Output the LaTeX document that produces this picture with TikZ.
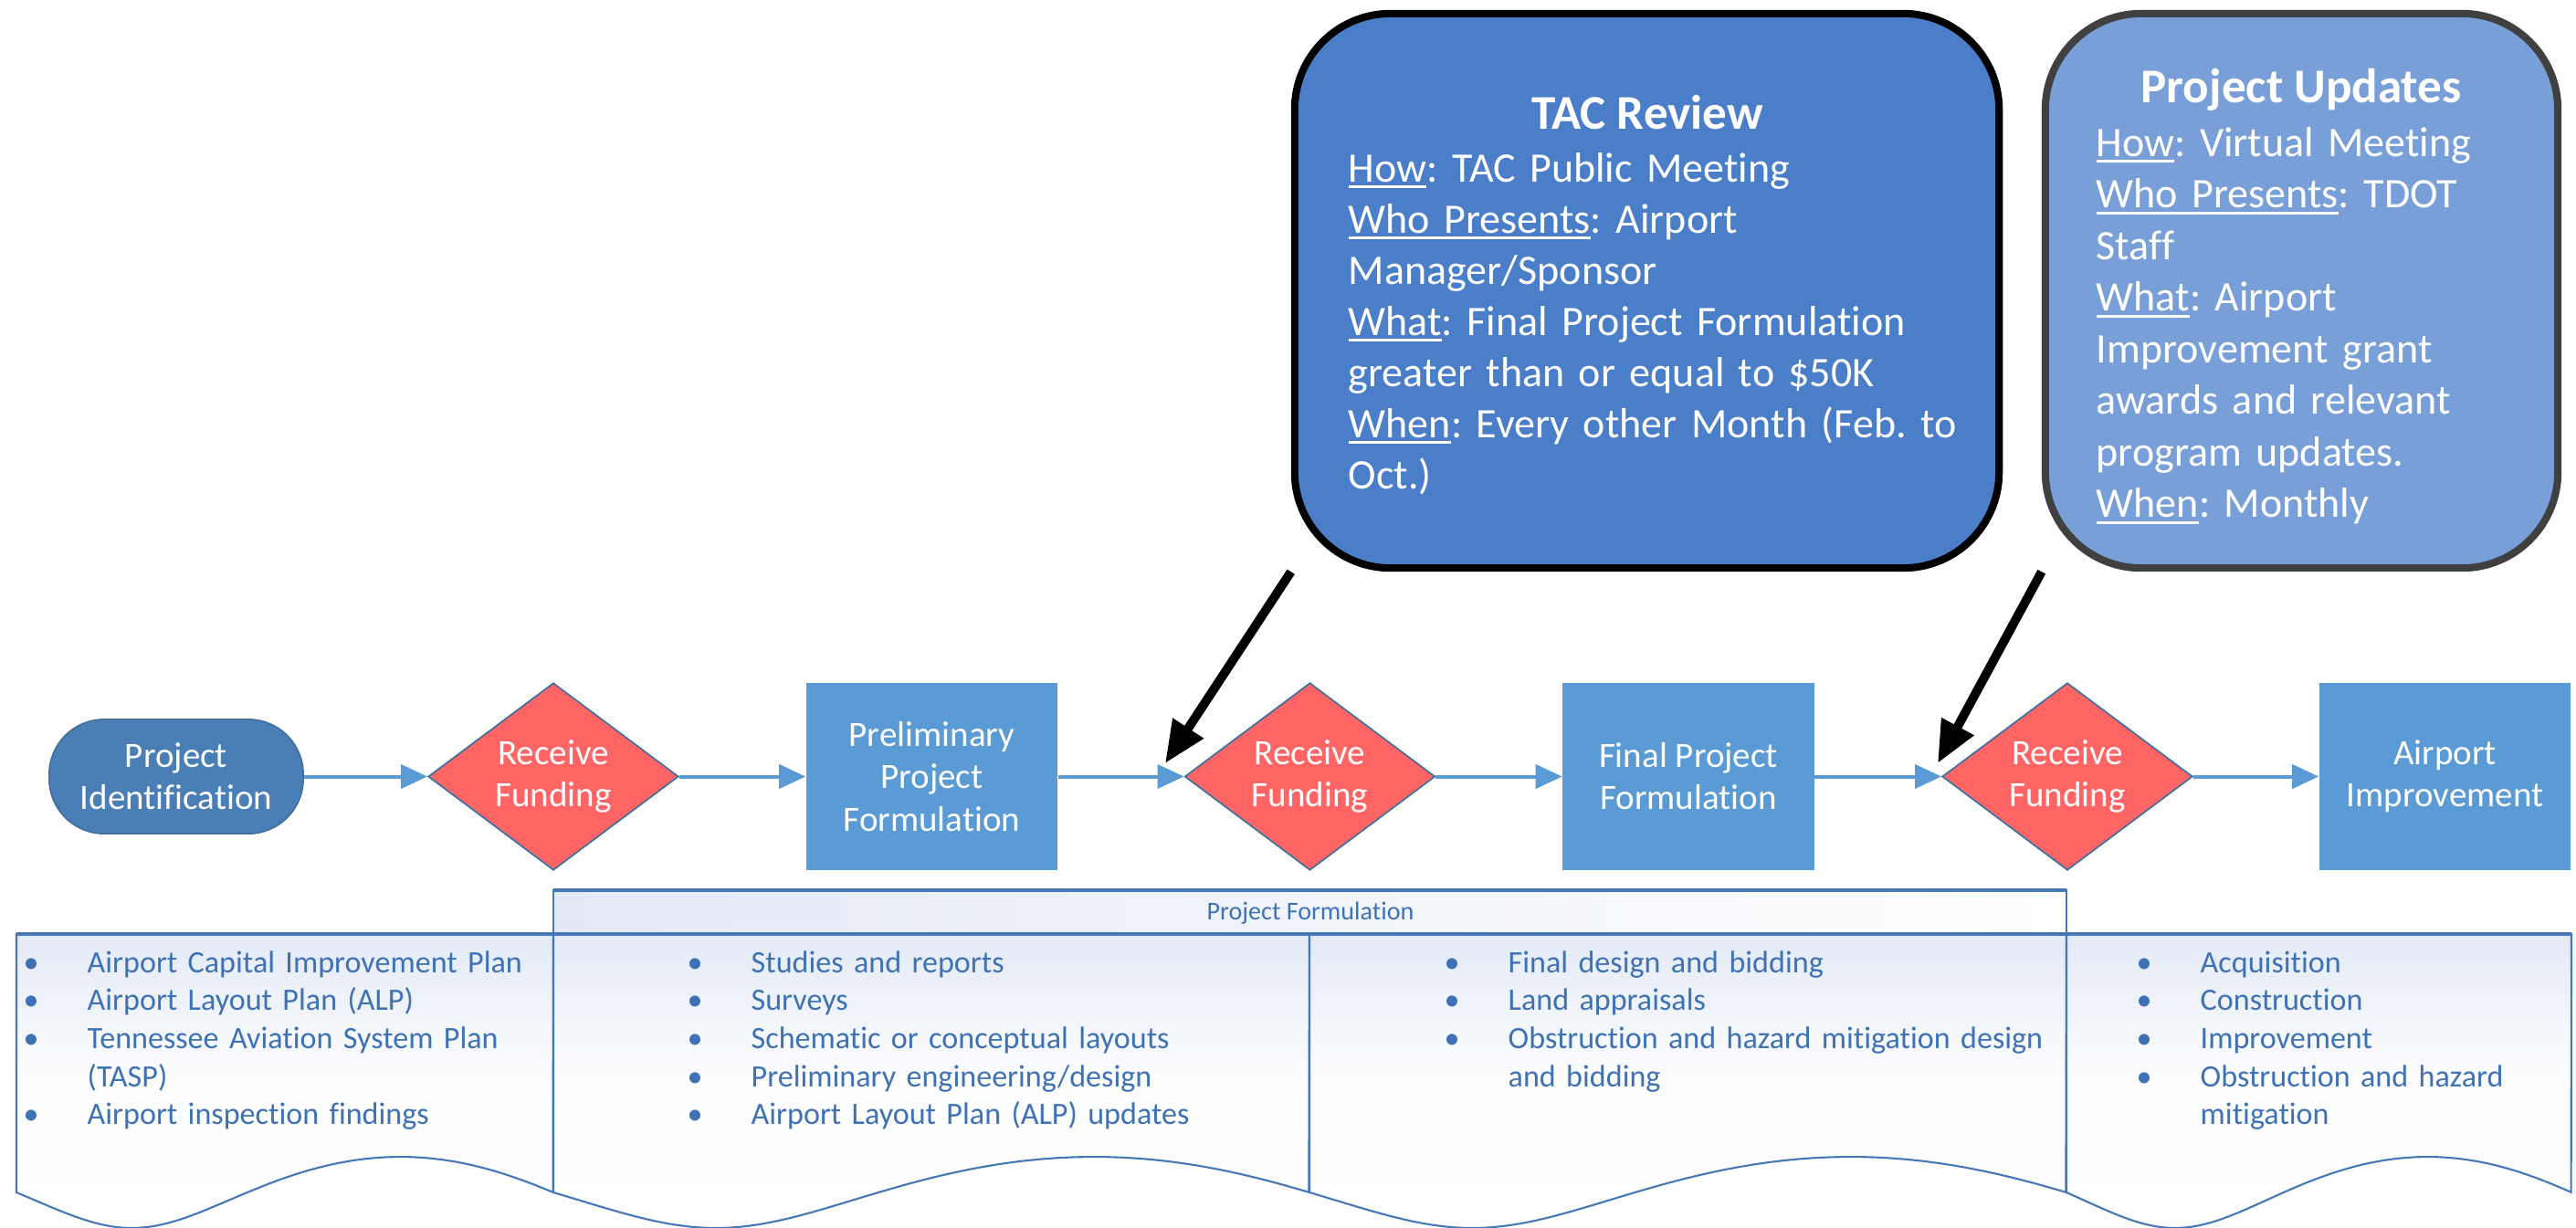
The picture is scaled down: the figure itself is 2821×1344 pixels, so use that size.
\documentclass[tikz,border=0pt]{standalone}
\usepackage{fontspec}
\setmainfont{Carlito}[Ligatures=NoCommon]
\usetikzlibrary{shapes.geometric,arrows.meta}
\definecolor{boxblue}{HTML}{5B9BD5}
\definecolor{termblue}{HTML}{4A7EB6}
\definecolor{edgeblue}{HTML}{41719C}
\definecolor{diafill}{HTML}{FF6565}
\definecolor{tacfill}{HTML}{4A7EC8}
\definecolor{pufill}{HTML}{789FD7}
\definecolor{pugray}{HTML}{404040}
\definecolor{listblue}{HTML}{3F72B5}
\definecolor{colline}{HTML}{4678B8}
\definecolor{colshade}{HTML}{E3EAF5}
\newcommand\undl[1]{\leavevmode\setbox0\hbox{#1}\rlap{\rule[-2pt]{\wd0}{0.85pt}}#1}
\newcommand\bul{\leavevmode\makebox[19.9pt][l]{•}}
\newcommand\ind{\leavevmode\hspace*{19.9pt}}
\newcommand\docpath[2]{(#1,1023) -- (#1,1306) -- plot[domain=0:1,samples=60] ({#1+(\x-0.035*(1-cos(360*\x)))*(#2-#1)},{1306+39*sin(360*\x)}) -- (#2,1023) -- cycle}
\frenchspacing
\begin{document}
\begin{tikzpicture}[x=0.01cm,y=-0.01cm,
  flowtext/.style={text=white,font=\fontsize{11.1}{13.1}\selectfont,align=center},
  procbox/.style={flowtext,fill=boxblue,minimum width=2.75cm,minimum height=2.05cm,inner sep=0pt},
  decision/.style={flowtext,diamond,fill=diafill,draw=edgeblue,line width=0.5pt,minimum width=2.74cm,minimum height=2.05cm,inner sep=0pt,aspect=1.34},
  terminal/.style={flowtext,rectangle,rounded corners=0.6cm,fill=termblue,draw=edgeblue,line width=0.5pt,minimum width=2.78cm,minimum height=1.25cm,inner sep=0pt},
  flow/.style={draw=boxblue,line width=1.15pt,-{Triangle[length=0.29cm,width=0.26cm]}},
  callarrow/.style={draw=black,line width=2.8pt,-{Triangle[length=0.46cm,width=0.38cm]}},
  callbox/.style={line width=2.3pt,rounded corners=1.05cm,minimum height=6.07cm,inner sep=0pt},
  calltitle/.style={text=white,font=\fontsize{15.1}{18}\selectfont\bfseries,anchor=base,inner sep=0pt},
  calltext/.style={text=white,font=\fontsize{13.1}{15.93}\selectfont,align=left,anchor=base west,inner sep=0pt},
  listtext/.style={text=listblue,font=\fontsize{9.7}{11.86}\selectfont,align=left,anchor=base west,inner sep=0pt,text width=7cm},
  colshape/.style={draw=colline,line width=0.6pt,top color=colshade,bottom color=white,middle color=white!92!colshade}
]
\useasboundingbox (0,0) rectangle (2821,1344);
\fill[white] (0,0) rectangle (2821,1344);

% flow nodes
\node[terminal] (pid) at (193,850.5) {Project\\Identification};
\node[decision] (rf1) at (606,850.5) {Receive\\Funding};
\node[procbox] (ppf) at (1020.5,850.5) {Preliminary\\Project\\Formulation};
\node[decision] (rf2) at (1434.5,850.5) {Receive\\Funding};
\node[procbox] (fpf) at (1849,850.5) {Final Project\\Formulation};
\node[decision] (rf3) at (2264,850.5) {Receive\\Funding};
\node[procbox] (aim) at (2677.5,850.5) {Airport\\Improvement};

\draw[flow] (pid) -- (rf1);
\draw[flow] (rf1) -- (ppf);
\draw[flow] (ppf) -- (rf2);
\draw[flow] (rf2) -- (fpf);
\draw[flow] (fpf) -- (rf3);
\draw[flow] (rf3) -- (aim);

% callouts
\node[callbox,draw=black,fill=tacfill,minimum width=7.71cm] (tac) at (1803.5,318.5) {};
\node[calltitle] (tactitle) at (1804,141) {TAC Review};
\node[calltext,text width=6.9cm] (tacbody) at (1476,199) {\undl{How}: TAC Public Meeting\\
\undl{Who Presents}: Airport\\
Manager/Sponsor\\
\undl{What}: Final Project Formulation\\
greater than or equal to \$50K\\
\undl{When}: Every other Month (Feb. to\\
Oct.)};

\node[callbox,draw=pugray,fill=pufill,minimum width=5.61cm] (pu) at (2520.5,318.5) {};
\node[calltitle] (putitle) at (2520,112) {Project Updates};
\node[calltext,text width=4.9cm,font=\fontsize{13.1}{16.07}\selectfont] (pubody) at (2295,171) {\undl{How}: Virtual Meeting\\
\undl{Who Presents}: TDOT\\
Staff\\
\undl{What}: Airport\\
Improvement grant\\
awards and relevant\\
program updates.\\
\undl{When}: Monthly};

\coordinate (tactip) at (1276,836);
\coordinate (putip) at (2122,836);
\draw[callarrow] (tac.south west) -- (tactip);
\draw[callarrow] (pu.south west) -- (putip);

% bottom table
\path[colshape] \docpath{18}{606};
\path[colshape] \docpath{606}{1434};
\path[colshape] \docpath{1434}{2263};
\path[colshape] \docpath{2263}{2816};
\path[draw=colline,line width=0.6pt,left color=colshade,right color=white] (606,975) rectangle (2263,1023);
\draw[colline,line width=1.3pt] (606,975) -- (2263,975);
\draw[colline,line width=1.4pt] (18,1023) -- (2816,1023);
\node[text=listblue,font=\fontsize{8}{9.6}\selectfont,anchor=base,inner sep=0pt] (pfhead) at (1435,1007) {Project Formulation};

\node[listtext] (list1) at (25,1065) {\bul Airport Capital Improvement Plan\\
\bul Airport Layout Plan (ALP)\\
\bul Tennessee Aviation System Plan\\
\ind (TASP)\\
\bul Airport inspection findings};
\node[listtext] (list2) at (752,1065) {\bul Studies and reports\\
\bul Surveys\\
\bul Schematic or conceptual layouts\\
\bul Preliminary engineering/design\\
\bul Airport Layout Plan (ALP) updates};
\node[listtext] (list3) at (1581,1065) {\bul Final design and bidding\\
\bul Land appraisals\\
\bul Obstruction and hazard mitigation design\\
\ind and bidding};
\node[listtext] (list4) at (2339,1065) {\bul Acquisition\\
\bul Construction\\
\bul Improvement\\
\bul Obstruction and hazard\\
\ind mitigation};
\end{tikzpicture}
\end{document}
